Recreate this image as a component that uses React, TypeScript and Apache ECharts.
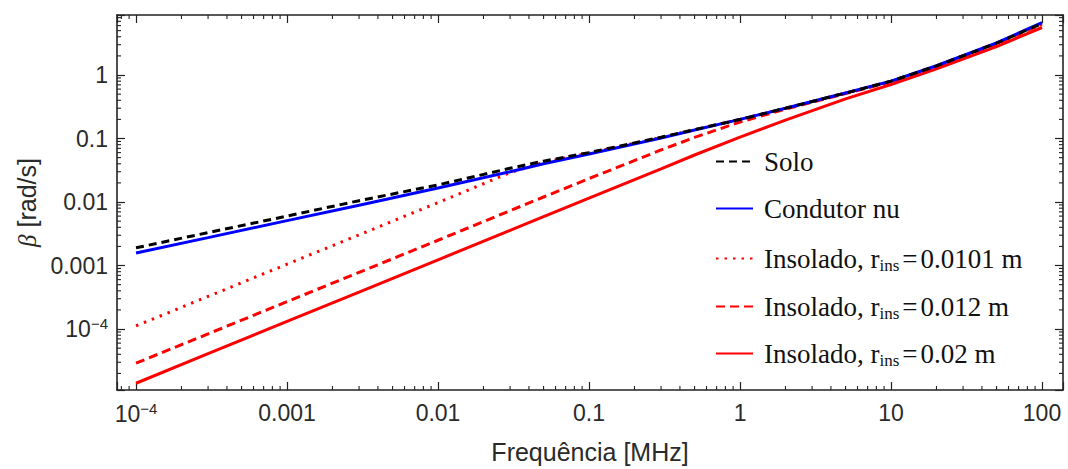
import React, { useEffect, useRef } from 'react';
import * as echarts from 'echarts';

// Frequencies (MHz) at which curves are sampled
const freq = [1e-4, 3e-4, 1e-3, 3e-3, 0.01, 0.03, 0.05, 0.1, 0.3, 0.5, 1, 2, 5, 10, 20, 50, 100];

// beta [rad/s] for each curve
const solo = [0.0019, 0.0033, 0.006, 0.0105, 0.0186, 0.034, 0.044, 0.06, 0.105, 0.138, 0.2, 0.3, 0.52, 0.8, 1.39, 3.18, 6.5];
const condutorNu = [0.00158, 0.00275, 0.0051, 0.0089, 0.0166, 0.03, 0.04, 0.057, 0.102, 0.136, 0.2, 0.3, 0.52, 0.8, 1.4, 3.2, 6.7];
const ins0101 = [0.000112, 0.000326, 0.00105, 0.00304, 0.0098, 0.029, 0.042, 0.059, 0.104, 0.137, 0.2, 0.3, 0.52, 0.79, 1.38, 3.15, 6.45];
const ins012 = [0.000029, 0.000084, 0.00027, 0.00078, 0.0025, 0.0073, 0.012, 0.0234, 0.066, 0.104, 0.182, 0.29, 0.51, 0.78, 1.36, 3.1, 6.35];
const ins02 = [0.000014, 0.000041, 0.000132, 0.00038, 0.00123, 0.00357, 0.0059, 0.0115, 0.0333, 0.055, 0.105, 0.195, 0.42, 0.71, 1.25, 2.8, 5.6];

const names = [
  'Solo',
  'Condutor nu',
  'Insolado, rins=0.0101 m',
  'Insolado, rins=0.012 m',
  'Insolado, rins=0.02 m',
];

const X_MIN = Math.pow(10, -4.126);
const X_MAX = Math.pow(10, 2.139);
const Y_MIN = Math.pow(10, -4.96);
const Y_MAX = Math.pow(10, 0.945);

const SANS = "'Liberation Sans', Arial, sans-serif";
const SERIF = "'Liberation Serif', 'Times New Roman', serif";
const FRAME = '#222';
const LABEL = '#2a2a2a';

function pairs(ys: number[]) {
  return freq.map((f, i) => [f, ys[i]]);
}

function minorTicks(lo: number, hi: number) {
  const out: number[] = [];
  for (let k = -6; k <= 3; k++) {
    for (let m = 2; m <= 9; m++) {
      const v = m * Math.pow(10, k);
      if (v > lo && v < hi) out.push(v);
    }
  }
  return out;
}

function tickFmt(v: number) {
  const l = Math.log10(v);
  const e = Math.round(l);
  if (Math.abs(l - e) > 1e-6) return '';
  if (e === -4) return '{b|10}{p|−4}';
  if (e >= 0) return String(Math.round(Math.pow(10, e)));
  return Math.pow(10, e).toFixed(-e);
}

const tickRich = {
  b: { fontSize: 23, fontFamily: SANS, color: LABEL, lineHeight: 26 },
  p: { fontSize: 15, fontFamily: SANS, color: LABEL, lineHeight: 12, verticalAlign: 'top' },
};

function legendFmt(name: string) {
  const m = name.match(/^(Insolado, r)ins(=)(.*)$/);
  if (m) return `{n|${m[1]}}{s|ins}{e|${m[2]}}{n|${m[3]}}`;
  return `{n|${name}}`;
}

const legendRich = {
  n: { fontSize: 27, fontFamily: SERIF, color: '#111', lineHeight: 30 },
  e: { fontSize: 27, fontFamily: SERIF, color: '#111', lineHeight: 30, padding: [0, 3, 0, 3] },
  s: { fontSize: 17, fontFamily: SERIF, color: '#111', lineHeight: 14, verticalAlign: 'bottom' },
};

const legendCenters = [163, 210, 260, 308, 355];

export default function App() {
  const ref = useRef<HTMLDivElement>(null);
  useEffect(() => {
    if (!ref.current) return;
    const chart = echarts.init(ref.current, null, { renderer: 'svg' });

    const axisLine = { show: true, onZero: false, lineStyle: { color: FRAME, width: 1.6 } };
    const axisTick = { show: true, inside: true, length: 8, lineStyle: { color: FRAME, width: 1.2 } };

    const xMinor = minorTicks(X_MIN, X_MAX);
    const yMinor = minorTicks(Y_MIN, Y_MAX);

    const tickStyle = { stroke: FRAME, lineWidth: 1.1 };

    const lineBase = { type: 'line', symbol: 'none', showSymbol: false, smooth: false };

    const option: any = {
      animation: false,
      backgroundColor: '#fff',
      grid: { left: 117, right: 5, top: 15, bottom: 79, containLabel: false, outerBoundsMode: 'none' },
      xAxis: [
        {
          type: 'log', logBase: 10, min: X_MIN, max: X_MAX, position: 'bottom',
          axisLine, axisTick,
          axisLabel: { formatter: tickFmt, fontSize: 23, color: LABEL, fontFamily: SANS, margin: 11, rich: tickRich },
          splitLine: { show: false }, minorTick: { show: false }, minorSplitLine: { show: false },
          name: 'Frequência [MHz]', nameLocation: 'middle', nameGap: 49,
          nameTextStyle: { fontSize: 25, fontFamily: SANS, color: LABEL },
        },
        {
          type: 'log', logBase: 10, min: X_MIN, max: X_MAX, position: 'top',
          axisLine, axisTick, axisLabel: { show: false }, splitLine: { show: false },
        },
      ],
      yAxis: [
        {
          type: 'log', logBase: 10, min: Y_MIN, max: Y_MAX, position: 'left',
          axisLine, axisTick,
          axisLabel: { formatter: tickFmt, fontSize: 23, color: LABEL, fontFamily: SANS, margin: 9, rich: tickRich },
          splitLine: { show: false }, minorTick: { show: false }, minorSplitLine: { show: false },
          name: '{g|β} [rad/s]', nameLocation: 'middle', nameGap: 77,
          nameTextStyle: {
            fontSize: 25, fontFamily: SANS, color: LABEL,
            rich: { g: { fontSize: 25, fontFamily: SERIF, fontStyle: 'italic', color: LABEL } },
          },
        },
        {
          type: 'log', logBase: 10, min: Y_MIN, max: Y_MAX, position: 'right',
          axisLine, axisTick, axisLabel: { show: false }, splitLine: { show: false },
        },
      ],
      legend: names.map((name, i) => ({
        data: [name],
        orient: 'vertical',
        left: 715,
        top: legendCenters[i] - 15,
        padding: 0,
        itemWidth: 37,
        itemHeight: 14,
        selectedMode: false,
        formatter: legendFmt,
        itemStyle: { opacity: 0 },
        textStyle: { rich: legendRich, padding: [0, 0, 0, 6] },
      })),
      series: [
        {
          type: 'custom', coordinateSystem: 'cartesian2d', xAxisIndex: 0, yAxisIndex: 0,
          silent: true, clip: false, z: 5,
          data: xMinor.map((v) => [v, Y_MIN]),
          encode: { x: 0, y: 1 },
          renderItem: (params: any, api: any) => {
            const cs = params.coordSys;
            const x = api.coord([api.value(0), Y_MIN])[0];
            const b = cs.y + cs.height;
            const t = cs.y;
            return {
              type: 'group',
              children: [
                { type: 'line', shape: { x1: x, y1: b, x2: x, y2: b - 4 }, style: tickStyle },
                { type: 'line', shape: { x1: x, y1: t, x2: x, y2: t + 4 }, style: tickStyle },
              ],
            };
          },
        },
        {
          type: 'custom', coordinateSystem: 'cartesian2d', xAxisIndex: 0, yAxisIndex: 0,
          silent: true, clip: false, z: 5,
          data: yMinor.map((v) => [X_MIN, v]),
          encode: { x: 0, y: 1 },
          renderItem: (params: any, api: any) => {
            const cs = params.coordSys;
            const y = api.coord([X_MIN, api.value(1)])[1];
            const l = cs.x;
            const r = cs.x + cs.width;
            return {
              type: 'group',
              children: [
                { type: 'line', shape: { x1: l, y1: y, x2: l + 4, y2: y }, style: tickStyle },
                { type: 'line', shape: { x1: r, y1: y, x2: r - 4, y2: y }, style: tickStyle },
              ],
            };
          },
        },
        {
          ...lineBase, name: names[4], data: pairs(ins02), z: 2,
          lineStyle: { color: '#ff0000', width: 3, type: 'solid' }, itemStyle: { color: '#ff0000' },
        },
        {
          ...lineBase, name: names[3], data: pairs(ins012), z: 2,
          lineStyle: { color: '#ff0000', width: 3, type: [9, 5] }, itemStyle: { color: '#ff0000' },
        },
        {
          ...lineBase, name: names[2], data: pairs(ins0101), z: 2,
          lineStyle: { color: '#ff0000', width: 3, type: [2.5, 6] }, itemStyle: { color: '#ff0000' },
        },
        {
          ...lineBase, name: names[1], data: pairs(condutorNu), z: 3,
          lineStyle: { color: '#0000ff', width: 3, type: 'solid' }, itemStyle: { color: '#0000ff' },
        },
        {
          ...lineBase, name: names[0], data: pairs(solo), z: 4,
          lineStyle: { color: '#000000', width: 3, type: [8, 5] }, itemStyle: { color: '#000000' },
        },
      ],
    };

    chart.setOption(option);
    return () => chart.dispose();
  }, []);

  return (
    <div
      ref={ref}
      style={{ position: 'fixed', left: 0, top: 0, width: 1068, height: 469, background: '#fff' }}
    />
  );
}
